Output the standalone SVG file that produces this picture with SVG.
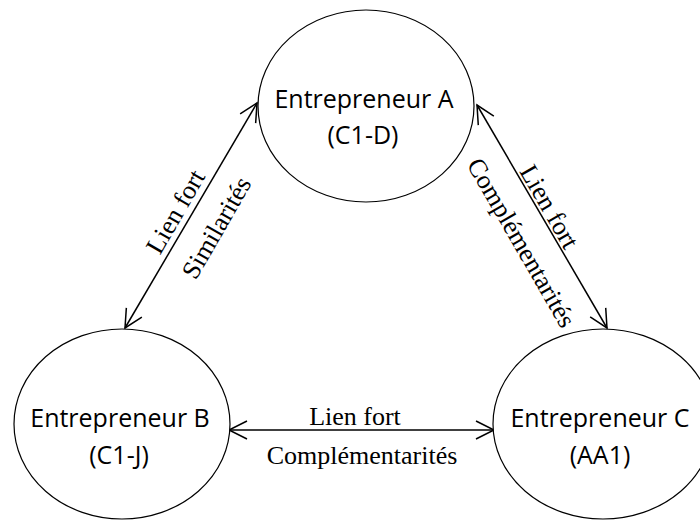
<svg xmlns="http://www.w3.org/2000/svg" width="700" height="520" viewBox="0 0 700 520">
  <style>
    .node ellipse { fill: #ffffff; stroke: #000000; stroke-width: 1.2; }
    .node text { font-family: "Open Sans", "Liberation Sans", sans-serif; font-size: 25px; fill: #000000; text-anchor: middle; }
    .conn line { stroke: #000000; stroke-width: 1.5; marker-start: url(#arr); marker-end: url(#arr); }
    .lbl { font-family: "Liberation Serif", "Times New Roman", serif; font-size: 26px; fill: #000000; text-anchor: middle; }
  </style>
  <defs>
    <marker id="arr" viewBox="-20 -10 22 20" refX="0" refY="0" markerUnits="userSpaceOnUse" markerWidth="22" markerHeight="20" orient="auto-start-reverse">
      <path d="M-18,-9 L0,0 L-18,9" fill="none" stroke="#000000" stroke-width="1.5"/>
    </marker>
  </defs>
  <rect width="700" height="520" fill="#ffffff"/>

  <g id="connectors" class="conn">
    <line x1="257" y1="103" x2="125" y2="328"/>
    <line x1="477" y1="105" x2="607" y2="328"/>
    <line x1="229" y1="430" x2="494" y2="430"/>
    <text class="lbl" transform="translate(183,216) rotate(-60)">Lien fort</text>
    <text class="lbl" transform="translate(224,232) rotate(-60)">Similarités</text>
    <text class="lbl" transform="translate(542,211) rotate(60)">Lien fort</text>
    <text class="lbl" transform="translate(514,247) rotate(60)">Complémentarités</text>
    <text class="lbl" x="355" y="425">Lien fort</text>
    <text class="lbl" x="362" y="464">Complémentarités</text>
  </g>

  <g id="nodeA" class="node">
    <ellipse cx="366" cy="106" rx="108" ry="96"/>
    <text x="364" y="108">Entrepreneur A</text>
    <text x="363" y="144">(C1-D)</text>
  </g>
  <g id="nodeB" class="node">
    <ellipse cx="122" cy="424" rx="108" ry="95"/>
    <text x="120" y="427">Entrepreneur B</text>
    <text x="119" y="464">(C1-J)</text>
  </g>
  <g id="nodeC" class="node">
    <ellipse cx="603" cy="424" rx="110" ry="95"/>
    <text x="600" y="427">Entrepreneur C</text>
    <text x="600" y="464">(AA1)</text>
  </g>
</svg>
